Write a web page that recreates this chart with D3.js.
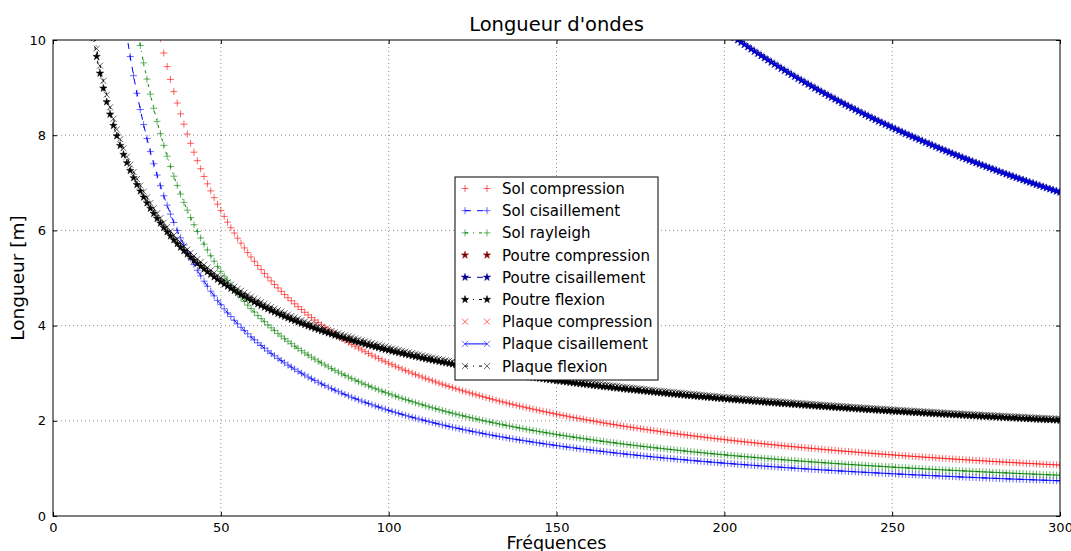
<!DOCTYPE html>
<html>
<head>
<meta charset="utf-8">
<script src="https://cdn.jsdelivr.net/npm/d3@7"></script>
<style>
  body { margin: 0; background: #fff; }
  svg { font-family: "DejaVu Sans", sans-serif; }
  .grid line { stroke: #000; stroke-opacity: 0.55; stroke-width: 0.8; stroke-dasharray: 1,3; }
</style>
</head>
<body>
<svg id="chart"></svg>
<script>
// frequency grid, 1 Hz steps (marker spacing)
var frequencies = d3.range(1, 301);

var seriesNames = [
  "Sol compression", "Sol cisaillement", "Sol rayleigh",
  "Poutre compression", "Poutre cisaillement", "Poutre flexion",
  "Plaque compression", "Plaque cisaillement", "Plaque flexion"
];
// wave speed [m/s] for non-dispersive waves, flexion coef [m*sqrt(Hz)] for bending waves
var waveSpeeds   = [321, 222, 257, 3400, 2040, null, 3470, 2040, null];
var flexionCoefs = [null, null, null, null, null, 34.8, null, null, 35.4];
var seriesColors = ["#ff0000", "#0000ff", "#008000", "#800000", "#000090", "#000000", "#ff0000", "#0000ff", "#000000"];
var seriesMarkers = ["plus", "plus", "plus", "star", "star", "star", "cross", "cross", "cross"];
var seriesDashes  = [null, "6,6", "3,5,1,5", null, "6,6", "3,5,1,5", null, "", "3,5,1,5"];

var xTicks = [0, 50, 100, 150, 200, 250, 300];
var yTicks = [0, 2, 4, 6, 8, 10];

var width = 1071, height = 551;
var margin = { left: 53, right: 11, top: 40, bottom: 35 };

var svg = d3.select("#chart").attr("width", width).attr("height", height);

var x = d3.scaleLinear().domain([0, 300]).range([margin.left, width - margin.right]);
var y = d3.scaleLinear().domain([0, 10]).range([height - margin.bottom, margin.top]);

// build point lists: lambda = c / f, or k / sqrt(f) for flexion
var series = seriesNames.map((name, i) => ({
  name: name,
  color: seriesColors[i],
  marker: seriesMarkers[i],
  dash: seriesDashes[i],
  points: frequencies.map(f => ({
    f: f,
    l: waveSpeeds[i] != null ? waveSpeeds[i] / f : flexionCoefs[i] / Math.sqrt(f)
  }))
}));

svg.append("defs").append("clipPath").attr("id", "plot-clip")
  .append("rect")
  .attr("x", x(0)).attr("y", y(10))
  .attr("width", x(300) - x(0)).attr("height", y(0) - y(10));

// grid
var grid = svg.append("g").attr("class", "grid");
grid.selectAll(".vx").data(xTicks.slice(1, -1)).join("line")
  .attr("x1", d => x(d)).attr("x2", d => x(d))
  .attr("y1", y(0)).attr("y2", y(10));
grid.selectAll(".hy").data(yTicks.slice(1, -1)).join("line")
  .attr("y1", d => y(d)).attr("y2", d => y(d))
  .attr("x1", x(0)).attr("x2", x(300));

function markerPath(type) {
  if (type === "plus") return "M-3.5,0H3.5M0,-3.5V3.5";
  if (type === "cross") return "M-3,-3L3,3M-3,3L3,-3";
  return d3.symbol(d3.symbolStar, 17)();
}

var line = d3.line().x(d => x(d.f)).y(d => y(d.l));

var plot = svg.append("g").attr("clip-path", "url(#plot-clip)");
series.forEach(s => {
  var g = plot.append("g");
  if (s.dash != null) {
    g.append("path")
      .datum(s.points.filter(p => p.l < 12))
      .attr("d", line)
      .attr("fill", "none")
      .attr("stroke", s.color)
      .attr("stroke-width", 1)
      .attr("stroke-dasharray", s.dash || null);
  }
  g.selectAll("path.m")
    .data(s.points.filter(p => p.l < 10.5))
    .join("path")
    .attr("class", "m")
    .attr("transform", d => `translate(${x(d.f)},${y(d.l)})`)
    .attr("d", markerPath(s.marker))
    .attr("fill", s.marker === "star" ? s.color : "none")
    .attr("stroke", s.color)
    .attr("stroke-opacity", s.marker === "star" ? 1 : 0.6)
    .attr("stroke-width", s.marker === "star" ? 0.5 : 1);
});

// axes with inward ticks on all sides
svg.append("g")
  .attr("transform", `translate(0,${y(0)})`)
  .call(d3.axisBottom(x).tickValues(xTicks).tickSize(-4).tickPadding(7))
  .call(g => g.select(".domain").remove());
svg.append("g")
  .attr("transform", `translate(0,${y(10)})`)
  .call(d3.axisTop(x).tickValues(xTicks).tickSize(-4).tickFormat(""))
  .call(g => g.select(".domain").remove());
svg.append("g")
  .attr("transform", `translate(${x(0)},0)`)
  .call(d3.axisLeft(y).tickValues(yTicks).tickSize(-4).tickPadding(7))
  .call(g => g.select(".domain").remove());
svg.append("g")
  .attr("transform", `translate(${x(300)},0)`)
  .call(d3.axisRight(y).tickValues(yTicks).tickSize(-4).tickFormat(""))
  .call(g => g.select(".domain").remove());
svg.selectAll(".tick text").attr("font-size", 13).attr("font-family", "DejaVu Sans").attr("fill", "#000");
svg.selectAll(".tick line").attr("stroke", "#000");

svg.append("rect")
  .attr("x", x(0)).attr("y", y(10))
  .attr("width", x(300) - x(0)).attr("height", y(0) - y(10))
  .attr("fill", "none").attr("stroke", "#000").attr("stroke-width", 1);

// titles
svg.append("text").attr("x", (x(0) + x(300)) / 2).attr("y", 31)
  .attr("text-anchor", "middle").attr("font-size", 19.5).text("Longueur d'ondes");
svg.append("text").attr("x", (x(0) + x(300)) / 2).attr("y", 549)
  .attr("text-anchor", "middle").attr("font-size", 17.5).text("Fréquences");
svg.append("text")
  .attr("transform", `translate(24,${(y(0) + y(10)) / 2}) rotate(-90)`)
  .attr("text-anchor", "middle").attr("font-size", 18.5).text("Longueur [m]");

// legend
var legend = svg.append("g").attr("transform", "translate(455,177)");
legend.append("rect").attr("width", 203).attr("height", 203)
  .attr("fill", "#fff").attr("stroke", "#000").attr("stroke-width", 1);
series.forEach((s, i) => {
  var ly = 11.5 + i * 22.2;
  var row = legend.append("g").attr("transform", `translate(0,${ly})`);
  if (s.dash != null) {
    row.append("line").attr("x1", 10).attr("x2", 32)
      .attr("stroke", s.color).attr("stroke-width", 1)
      .attr("stroke-dasharray", s.dash || null);
  }
  [10, 32].forEach(mx => {
    row.append("path")
      .attr("transform", `translate(${mx},0)`)
      .attr("d", markerPath(s.marker))
      .attr("fill", s.marker === "star" ? s.color : "none")
      .attr("stroke", s.color)
      .attr("stroke-opacity", s.marker === "star" ? 1 : 0.6)
      .attr("stroke-width", s.marker === "star" ? 0.5 : 1);
  });
  row.append("text").attr("x", 47).attr("y", 5.5).attr("font-size", 15).text(s.name);
});
</script>
</body>
</html>
